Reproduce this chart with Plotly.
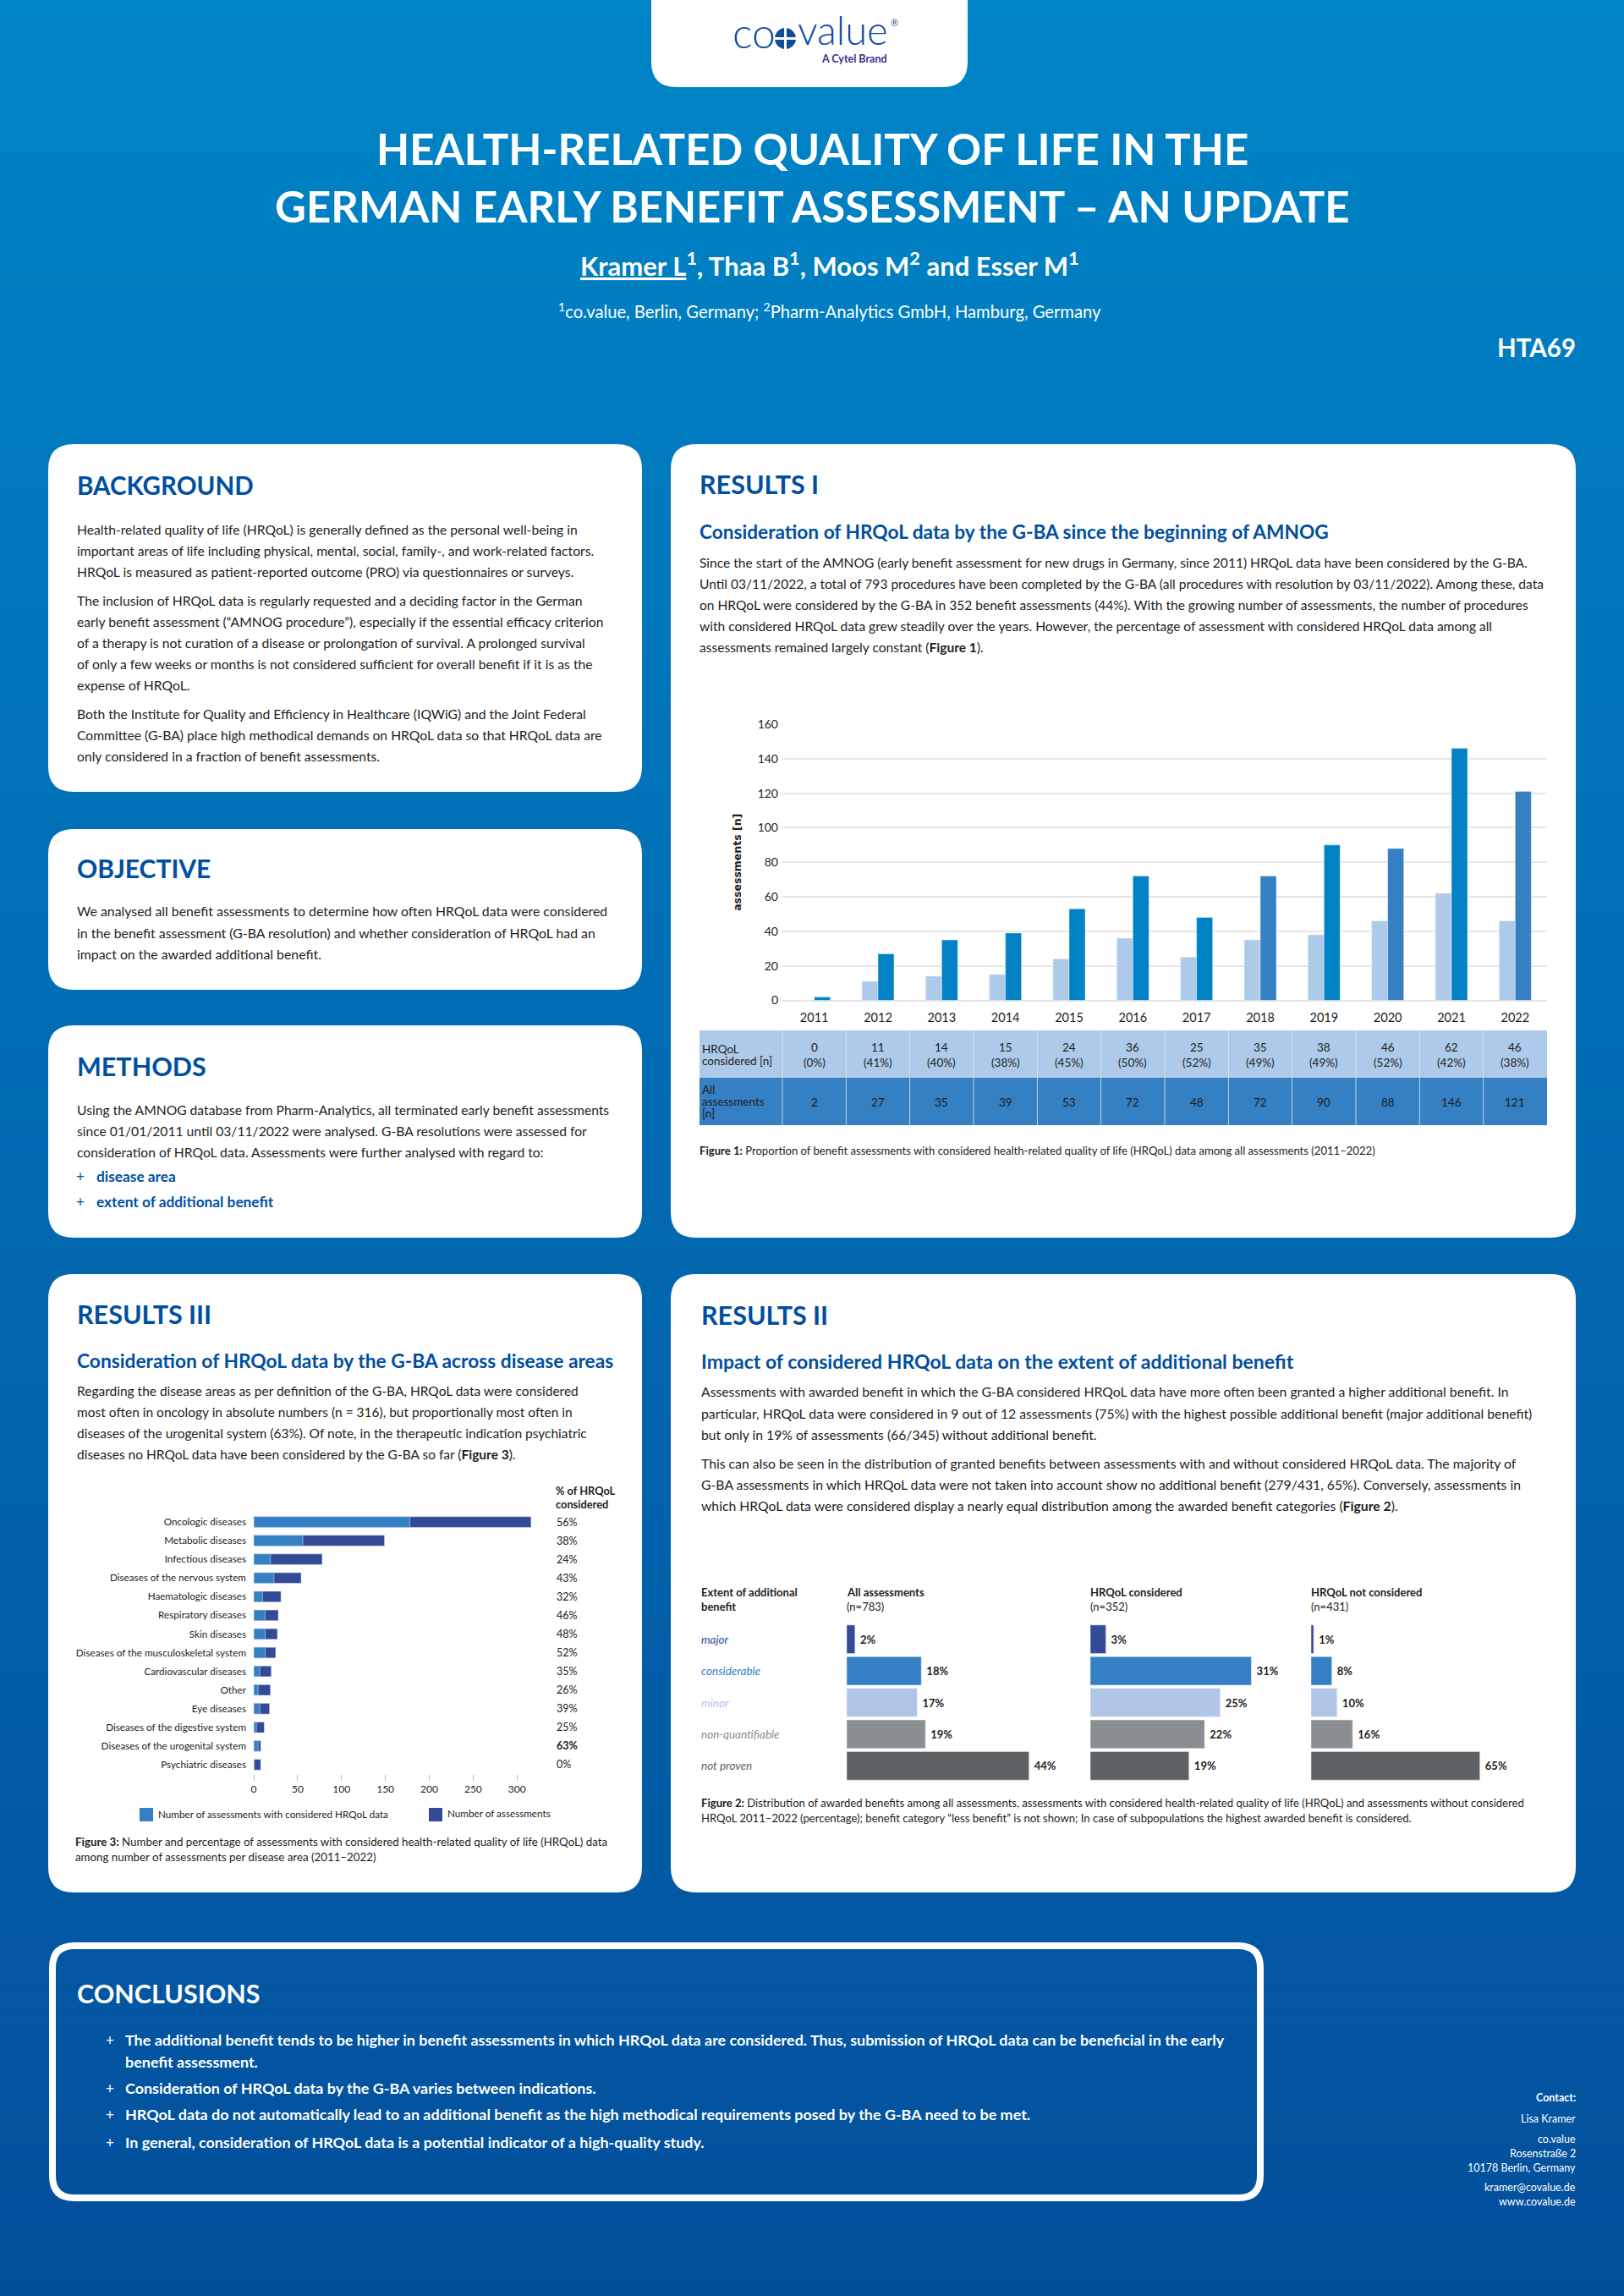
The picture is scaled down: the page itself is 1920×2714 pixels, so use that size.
import plotly.graph_objects as go

W, H = 1920, 2714
FONT = "Lato"
BLUE = "#004F9F"
TEXT = "#1d1d1b"

# ---------------------------
# Data
# ---------------------------
years = ["2011", "2012", "2013", "2014", "2015", "2016", "2017", "2018", "2019", "2020", "2021", "2022"]
hrqol_n = [0, 11, 14, 15, 24, 36, 25, 35, 38, 46, 62, 46]
hrqol_pct = ["0%", "41%", "40%", "38%", "45%", "50%", "52%", "49%", "49%", "52%", "42%", "38%"]
all_n = [2, 27, 35, 39, 53, 72, 48, 72, 90, 88, 146, 121]
all_colors = ["#0082C4"] * 7 + ["#357FC3", "#0082C4", "#357FC3", "#0082C4", "#357FC3"]

diseases = ["Oncologic diseases", "Metabolic diseases", "Infectious diseases", "Diseases of the nervous system",
            "Haematologic diseases", "Respiratory diseases", "Skin diseases", "Diseases of the musculoskeletal system",
            "Cardiovascular diseases", "Other", "Eye diseases", "Diseases of the digestive system",
            "Diseases of the urogenital system", "Psychiatric diseases"]
disease_total = [316, 149, 78, 54, 31, 28, 27, 25, 20, 19, 18, 12, 8, 8]
disease_hrqol = [178, 56, 19, 23, 10, 13, 13, 13, 7, 5, 7, 3, 5, 0]
disease_pct = ["56%", "38%", "24%", "43%", "32%", "46%", "48%", "52%", "35%", "26%", "39%", "25%", "63%", "0%"]

benefit_cats = ["major", "considerable", "minor", "non-quantifiable", "not proven"]
benefit_colors = ["#334A97", "#3580C4", "#B1C5E6", "#8A8E91", "#5E6265"]
benefit_all = [2, 18, 17, 19, 44]
benefit_yes = [3, 31, 25, 22, 19]
benefit_no = [1, 8, 10, 16, 65]

background_lines = [
    (626, "Health-related quality of life (HRQoL) is generally defined as the personal well-being in"),
    (651, "important areas of life including physical, mental, social, family-, and work-related factors."),
    (676, "HRQoL is measured as patient-reported outcome (PRO) via questionnaires or surveys."),
    (710, "The inclusion of HRQoL data is regularly requested and a deciding factor in the German"),
    (735, "early benefit assessment (“AMNOG procedure”), especially if the essential efficacy criterion"),
    (760, "of a therapy is not curation of a disease or prolongation of survival. A prolonged survival"),
    (785, "of only a few weeks or months is not considered sufficient for overall benefit if it is as the"),
    (810, "expense of HRQoL."),
    (844, "Both the Institute for Quality and Efficiency in Healthcare (IQWiG) and the Joint Federal"),
    (869, "Committee (G-BA) place high methodical demands on HRQoL data so that HRQoL data are"),
    (894, "only considered in a fraction of benefit assessments."),
]
objective_lines = [
    (1077, "We analysed all benefit assessments to determine how often HRQoL data were considered"),
    (1102, "in the benefit assessment (G-BA resolution) and whether consideration of HRQoL had an"),
    (1127, "impact on the awarded additional benefit."),
]
methods_lines = [
    (1312, "Using the AMNOG database from Pharm-Analytics, all terminated early benefit assessments"),
    (1337, "since 01/01/2011 until 03/11/2022 were analysed. G-BA resolutions were assessed for"),
    (1362, "consideration of HRQoL data. Assessments were further analysed with regard to:"),
]
results1_lines = [
    (665, "Since the start of the AMNOG (early benefit assessment for new drugs in Germany, since 2011) HRQoL data have been considered by the G-BA."),
    (690, "Until 03/11/2022, a total of 793 procedures have been completed by the G-BA (all procedures with resolution by 03/11/2022). Among these, data"),
    (715, "on HRQoL were considered by the G-BA in 352 benefit assessments (44%). With the growing number of assessments, the number of procedures"),
    (740, "with considered HRQoL data grew steadily over the years. However, the percentage of assessment with considered HRQoL data among all"),
    (765, "assessments remained largely constant (<b>Figure 1</b>)."),
]
results2_lines = [
    (1645, "Assessments with awarded benefit in which the G-BA considered HRQoL data have more often been granted a higher additional benefit. In"),
    (1670, "particular, HRQoL data were considered in 9 out of 12 assessments (75%) with the highest possible additional benefit (major additional benefit)"),
    (1695, "but only in 19% of assessments (66/345) without additional benefit."),
    (1729, "This can also be seen in the distribution of granted benefits between assessments with and without considered HRQoL data. The majority of"),
    (1754, "G-BA assessments in which HRQoL data were not taken into account show no additional benefit (279/431, 65%). Conversely, assessments in"),
    (1779, "which HRQoL data were considered display a nearly equal distribution among the awarded benefit categories (<b>Figure 2</b>)."),
]
results3_lines = [
    (1644, "Regarding the disease areas as per definition of the G-BA, HRQoL data were considered"),
    (1669, "most often in oncology in absolute numbers (n = 316), but proportionally most often in"),
    (1694, "diseases of the urogenital system (63%). Of note, in the therapeutic indication psychiatric"),
    (1719, "diseases no HRQoL data have been considered by the G-BA so far (<b>Figure 3</b>)."),
]
conclusion_lines = [
    (2411, True, "The additional benefit tends to be higher in benefit assessments in which HRQoL data are considered. Thus, submission of HRQoL data can be beneficial in the early"),
    (2437, False, "benefit assessment."),
    (2468, True, "Consideration of HRQoL data by the G-BA varies between indications."),
    (2499, True, "HRQoL data do not automatically lead to an additional benefit as the high methodical requirements posed by the G-BA need to be met."),
    (2532, True, "In general, consideration of HRQoL data is a potential indicator of a high-quality study."),
]
contact_lines = [
    (2479, "<b>Contact:</b>"), (2504, "Lisa Kramer"), (2528, "co.value"), (2545, "Rosenstraße 2"),
    (2562, "10178 Berlin, Germany"), (2585, "kramer@covalue.de"), (2602, "www.covalue.de"),
]


# ---------------------------
# Helpers (page pixels -> paper)
# ---------------------------
def fx(x):
    return x / W


def fy(y):
    return 1 - y / H


def dom_x(a, b):
    return [fx(a), fx(b)]


def dom_y(top, bottom):
    return [fy(bottom), fy(top)]


shapes = []
annotations = []


def text(x, y, s, size=15, color=TEXT, anchor="left", bold=False, xref="paper", yref="paper", family=FONT, weight=None):
    font = dict(family=family, size=size, color=color)
    if weight:
        font["weight"] = weight
    annotations.append(dict(
        x=fx(x) if xref == "paper" else x,
        y=fy(y) if yref == "paper" else y,
        xref=xref, yref=yref, text=f"<b>{s}</b>" if bold else s, showarrow=False,
        xanchor=anchor, yanchor="middle", align=anchor, borderpad=0, borderwidth=0, font=font))


def rect(x0, y0, x1, y1, fill):
    shapes.append(dict(type="rect", xref="paper", yref="paper", layer="below",
                       x0=fx(x0), x1=fx(x1), y0=fy(y0), y1=fy(y1),
                       fillcolor=fill, line=dict(width=0)))


def card(x0, y0, x1, y1, r=30, fill="white", line=None, top=True):
    p = []
    if top:
        p.append(f"M{fx(x0 + r)},{fy(y0)} L{fx(x1 - r)},{fy(y0)} Q{fx(x1)},{fy(y0)} {fx(x1)},{fy(y0 + r)}")
    else:
        p.append(f"M{fx(x0)},{fy(y0)} L{fx(x1)},{fy(y0)}")
    p.append(f"L{fx(x1)},{fy(y1 - r)} Q{fx(x1)},{fy(y1)} {fx(x1 - r)},{fy(y1)}")
    p.append(f"L{fx(x0 + r)},{fy(y1)} Q{fx(x0)},{fy(y1)} {fx(x0)},{fy(y1 - r)}")
    if top:
        p.append(f"L{fx(x0)},{fy(y0 + r)} Q{fx(x0)},{fy(y0)} {fx(x0 + r)},{fy(y0)}")
    p.append("Z")
    shapes.append(dict(type="path", xref="paper", yref="paper", layer="below", path=" ".join(p),
                       fillcolor=fill, line=dict(width=0) if line is None else line))


# ---------------------------
# Background and cards
# ---------------------------
n_bands = 136
for i in range(n_bands):
    t = (i + 0.5) / n_bands
    col = f"rgb({round(0 + 3 * t)},{round(133 - 54 * t)},{round(199 - 43 * t)})"
    rect(0, H * i / n_bands, W, H * (i + 1) / n_bands + 1, col)

card(770, 0, 1144, 103, top=False)
card(57, 525, 759, 936)
card(57, 980, 759, 1170)
card(57, 1212, 759, 1463)
card(793, 525, 1863, 1463)
card(57, 1506, 759, 2237)
card(793, 1506, 1863, 2237)
card(62, 2300, 1490, 2598, r=26, fill="rgba(0,0,0,0)", line=dict(color="white", width=8))

# logo
LOGO = "#0F4C9C"
text(866, 38, "co", size=50, color=LOGO, weight=300)
shapes.append(dict(type="circle", xref="paper", yref="paper", x0=fx(916), x1=fx(941), y0=fy(58), y1=fy(33),
                   fillcolor=LOGO, line=dict(width=0), layer="below"))
rect(927, 33, 930, 58, "white")
rect(916, 44, 941, 47, "white")
text(943, 35, "value", size=47, color=LOGO, weight=300)
text(1053, 27, "®", size=11, color=LOGO)
text(1049, 69, "A Cytel Brand", size=12.5, color="#3D2C8D", anchor="right", bold=True)

# title block
text(960, 175, "HEALTH-RELATED QUALITY OF LIFE IN THE", size=50.9, color="white", anchor="center", bold=True)
text(960, 244, "GERMAN EARLY BENEFIT ASSESSMENT – AN UPDATE", size=50.9, color="white", anchor="center", bold=True)
text(981, 313, '<span style="text-decoration:underline">Kramer L</span><sup>1</sup>, Thaa B<sup>1</sup>, Moos M<sup>2</sup> and Esser M<sup>1</sup>',
     size=31, color="white", anchor="center", bold=True)
text(981, 367, "<sup>1</sup>co.value, Berlin, Germany; <sup>2</sup>Pharm-Analytics GmbH, Hamburg, Germany",
     size=20.2, color="white", anchor="center")
text(1863, 410, "HTA69", size=29.5, color="white", anchor="right", bold=True)

# section text
text(91, 573, "BACKGROUND", size=29.5, color=BLUE, bold=True)
text(91, 1026, "OBJECTIVE", size=30, color=BLUE, bold=True)
text(91, 1260, "METHODS", size=30.5, color=BLUE, bold=True)
text(827, 572, "RESULTS I", size=30.5, color=BLUE, bold=True)
text(829, 1554, "RESULTS II", size=30.5, color=BLUE, bold=True)
text(91, 1553, "RESULTS III", size=30.5, color=BLUE, bold=True)
text(827, 628, "Consideration of HRQoL data by the G-BA since the beginning of AMNOG", size=22.65, color=BLUE, bold=True)
text(829, 1609, "Impact of considered HRQoL data on the extent of additional benefit", size=23, color=BLUE, bold=True)
text(91, 1608, "Consideration of HRQoL data by the G-BA across disease areas", size=22.75, color=BLUE, bold=True)

for y, s in background_lines:
    text(91, y, s, size=15.7)
for y, s in objective_lines:
    text(91, y, s, size=15.85)
for y, s in methods_lines:
    text(91, y, s, size=15.65)
for y, s in results3_lines:
    text(91, y, s, size=15.5)
for y, s in results1_lines:
    text(827, y, s, size=15.55)
for y, s in results2_lines:
    text(829, y, s, size=15.75)

text(90, 1391, "+", size=17, color=BLUE)
text(114, 1391, "disease area", size=17.3, color=BLUE, bold=True)
text(90, 1420, "+", size=17, color=BLUE)
text(114, 1420, "extent of additional benefit", size=17.3, color=BLUE, bold=True)

text(91, 2356, "CONCLUSIONS", size=30.5, color="white", bold=True)
for y, plus, s in conclusion_lines:
    if plus:
        text(125, y, "+", size=17, color="white")
    text(148, y, s, size=17.95, color="white", bold=True)
for y, s in contact_lines:
    text(1863, y, s, size=12.5, color="white", anchor="right")

# ---------------------------
# Figure 1
# ---------------------------
fig = go.Figure()
bar_w = 0.252
fig.add_trace(go.Bar(x=years, y=hrqol_n, marker_color="#AECAEA", width=bar_w, offset=-bar_w,
                     xaxis="x", yaxis="y", showlegend=False))
fig.add_trace(go.Bar(x=years, y=all_n, marker_color=all_colors, width=bar_w, offset=0,
                     xaxis="x", yaxis="y", showlegend=False))

col_w = (1829 - 925) / 12
rect(827, 1218, 1829, 1274, "#AECAEA")
rect(827, 1274, 1829, 1330, "#357FC3")
for i in range(12):
    xs = 925 + i * col_w
    rect(xs - 0.4, 1218, xs + 0.4, 1330, "#DCE8F5")
text(830, 1240, "HRQoL", size=13.5)
text(830, 1254, "considered [n]", size=13.5)
text(830, 1288, "All", size=13.5)
text(830, 1302, "assessments", size=13.5)
text(830, 1316, "[n]", size=13.5)
for i, (n, pct, total) in enumerate(zip(hrqol_n, hrqol_pct, all_n)):
    text(i, 1238, str(n), size=13.5, anchor="center", xref="x")
    text(i, 1256, f"({pct})", size=13.5, anchor="center", xref="x")
    text(i, 1303, str(total), size=13.5, anchor="center", xref="x")
text(827, 1360, "<b>Figure 1:</b> Proportion of benefit assessments with considered health-related quality of life (HRQoL) data among all assessments (2011–2022)", size=13.1)

# ---------------------------
# Figure 3
# ---------------------------
fig.add_trace(go.Bar(y=diseases, x=disease_total, orientation="h", marker_color="#334A97", width=0.575,
                     xaxis="x2", yaxis="y2", showlegend=False))
fig.add_trace(go.Bar(y=diseases, x=disease_hrqol, orientation="h", marker_color="#3580C4", width=0.575,
                     xaxis="x2", yaxis="y2", showlegend=False))
text(657, 1762, "% of HRQoL", size=12.8, bold=True)
text(657, 1778, "considered", size=12.8, bold=True)
for d, p in zip(diseases, disease_pct):
    text(658, d, p, size=12.5, yref="y2", bold=(p == max(disease_pct)))
rect(165, 2137, 181, 2153, "#3580C4")
text(187, 2144, "Number of assessments with considered HRQoL data", size=11.7)
rect(507, 2137, 523, 2153, "#334A97")
text(529, 2143, "Number of assessments", size=11.7)
text(89, 2177, "<b>Figure 3:</b> Number and percentage of assessments with considered health-related quality of life (HRQoL) data", size=13.3)
text(89, 2195, "among number of assessments per disease area (2011–2022)", size=13.3)

# ---------------------------
# Figure 2
# ---------------------------
for vals, ax in [(benefit_all, "3"), (benefit_yes, "4"), (benefit_no, "5")]:
    fig.add_trace(go.Bar(y=benefit_cats, x=vals, orientation="h", marker_color=benefit_colors, width=0.9,
                         text=[f"<b>\u00a0{v}%</b>" for v in vals], textposition="outside", cliponaxis=False,
                         constraintext="none", textfont=dict(family=FONT, size=13, color=TEXT),
                         xaxis=f"x{ax}", yaxis=f"y{ax}", showlegend=False))

text(829, 1882, "Extent of additional", size=13, bold=True)
text(829, 1899, "benefit", size=13, bold=True)
text(1001, 1882, "All assessments", size=13, bold=True)
text(1001, 1899, "(n=783)", size=13)
text(1289, 1882, "HRQoL considered", size=13, bold=True)
text(1289, 1899, "(n=352)", size=13)
text(1550, 1882, "HRQoL not considered", size=13, bold=True)
text(1550, 1899, "(n=431)", size=13)
for cat, c in zip(benefit_cats, benefit_colors):
    text(829, cat, f"<i>{cat}</i>", size=13.5, color=c, yref="y3")
text(829, 2131, "<b>Figure 2:</b> Distribution of awarded benefits among all assessments, assessments with considered health-related quality of life (HRQoL) and assessments without considered", size=13.1)
text(829, 2149, "HRQoL 2011–2022 (percentage); benefit category “less benefit” is not shown; In case of subpopulations the highest awarded benefit is considered.", size=13.1)

# ---------------------------
# Layout
# ---------------------------
hidden_y = dict(type="category", autorange="reversed", visible=False, fixedrange=True)
fig.update_layout(
    width=W, height=H, margin=dict(l=0, r=0, t=0, b=0, autoexpand=False), autosize=False,
    paper_bgcolor="rgba(0,0,0,0)", plot_bgcolor="rgba(0,0,0,0)",
    barmode="overlay", showlegend=False, shapes=shapes, annotations=annotations,
    font=dict(family=FONT, color=TEXT),
    xaxis=dict(domain=dom_x(925, 1829), type="category", categoryorder="array", categoryarray=years,
               range=[-0.5, 11.5], anchor="y", showgrid=False, showline=False, ticks="", ticklabelstandoff=10,
               tickfont=dict(family=FONT, size=14.5, color=TEXT), fixedrange=True),
    yaxis=dict(domain=dom_y(856, 1182.5), range=[0, 160], dtick=20, anchor="x", gridcolor="#E6E6E6", gridwidth=1.5,
               zerolinecolor="#E6E6E6", zerolinewidth=1.5, showline=False, ticks="", ticklabelstandoff=4,
               tickfont=dict(family=FONT, size=14, color=TEXT), fixedrange=True,
               title=dict(text="<b>assessments [n]</b>", standoff=16,
                          font=dict(family="DejaVu Sans", size=12.5, color=TEXT))),
    xaxis2=dict(domain=dom_x(300, 632), range=[0, 320], dtick=50, anchor="y2", showgrid=False, zeroline=False,
                showline=False, ticks="outside", ticklen=7, tickcolor="#BBBBBB", tickwidth=1,
                tickfont=dict(family=FONT, size=12, color=TEXT), fixedrange=True),
    yaxis2=dict(domain=dom_y(1788, 2097), type="category", autorange="reversed", anchor="x2", showgrid=False,
                zeroline=False, showline=False, ticks="", ticklabelstandoff=8,
                tickfont=dict(family=FONT, size=11.7, color=TEXT), fixedrange=True),
    xaxis3=dict(domain=dom_x(1001, 1246), range=[0, 50], anchor="y3", visible=False, fixedrange=True),
    yaxis3=dict(domain=dom_y(1919, 2106), anchor="x3", **hidden_y),
    xaxis4=dict(domain=dom_x(1289, 1504), range=[0, 35], anchor="y4", visible=False, fixedrange=True),
    yaxis4=dict(domain=dom_y(1919, 2106), anchor="x4", **hidden_y),
    xaxis5=dict(domain=dom_x(1550, 1765), range=[0, 70], anchor="y5", visible=False, fixedrange=True),
    yaxis5=dict(domain=dom_y(1919, 2106), anchor="x5", **hidden_y),
)

fig.write_html("out.html", config=dict(displayModeBar=False),
               post_script="document.body.style.margin='0';")
